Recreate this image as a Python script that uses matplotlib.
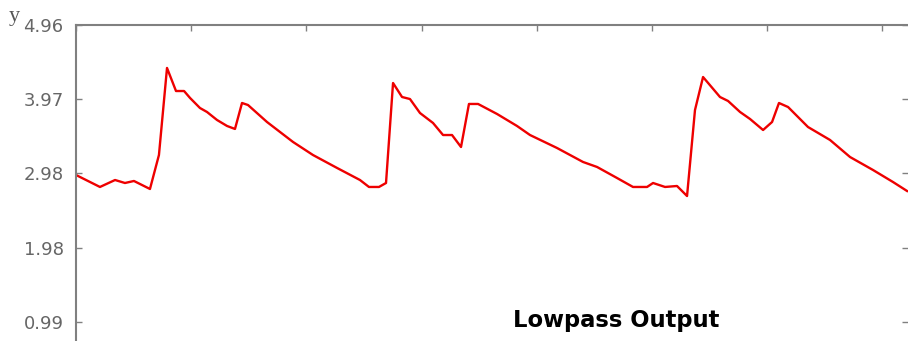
import matplotlib
matplotlib.use('Agg')
import matplotlib.pyplot as plt

# time (top tick = 1 unit) and lowpass output values
t = [0.000, 0.208, 0.339, 0.425, 0.503, 0.642, 0.720, 0.790, 0.868, 0.938,
     0.990, 1.076, 1.137, 1.224, 1.311, 1.380, 1.441, 1.493, 1.658, 1.884,
     2.057, 2.266, 2.465, 2.543, 2.630, 2.691, 2.752, 2.830, 2.899, 2.986,
     3.099, 3.186, 3.264, 3.342, 3.411, 3.490, 3.655, 3.828, 3.941, 4.175,
     4.401, 4.523, 4.696, 4.835, 4.957, 5.009, 5.113, 5.217, 5.304, 5.373,
     5.443, 5.590, 5.660, 5.764, 5.851, 5.964, 6.042, 6.102, 6.181, 6.354,
     6.545, 6.719, 6.918, 7.092, 7.214]
y = [2.956, 2.796, 2.889, 2.849, 2.876, 2.769, 3.223, 4.386, 4.078, 4.078,
     3.985, 3.851, 3.798, 3.691, 3.611, 3.571, 3.918, 3.891, 3.664, 3.397,
     3.223, 3.050, 2.889, 2.796, 2.796, 2.849, 4.185, 3.998, 3.971, 3.784,
     3.651, 3.490, 3.490, 3.330, 3.905, 3.905, 3.771, 3.611, 3.490, 3.317,
     3.130, 3.063, 2.916, 2.796, 2.796, 2.849, 2.796, 2.809, 2.675, 3.824,
     4.265, 3.998, 3.945, 3.798, 3.704, 3.557, 3.664, 3.918, 3.864, 3.597,
     3.424, 3.196, 3.023, 2.862, 2.742]

y_ticks = [0.992, 1.984, 2.976, 3.968, 4.96]
y_labels = ['0.99', '1.98', '2.98', '3.97', '4.96']
x_ticks = [0, 1, 2, 3, 4, 5, 6, 7]

W, H = 908, 341
fig = plt.figure(figsize=(W / 100, H / 100), dpi=100)
ax = fig.add_axes([76 / W, 0, 1 - 76 / W, 316 / H])

ax.plot(t, y, color='#ee0000', lw=1.7, solid_joinstyle='round')
ax.set_xlim(0, 7.222)
ax.set_ylim(0.738, 4.96)

for side in ('bottom', 'right'):
    ax.spines[side].set_visible(False)
for side in ('left', 'top'):
    ax.spines[side].set_color('#808080')
    ax.spines[side].set_linewidth(1.5)

ax.set_yticks(y_ticks)
ax.set_yticklabels(y_labels)
ax.tick_params(axis='y', direction='in', length=4, width=1, color='#808080',
               pad=9, labelsize=13, labelcolor='#666666', right=True)
ax.set_xticks(x_ticks)
ax.tick_params(axis='x', direction='in', length=4, width=1, color='#808080',
               top=True, bottom=False, labelbottom=False, labeltop=False)

fig.text(14 / W, 1 - 17 / H, 'y', family='Liberation Serif', fontsize=16,
         color='#555555', ha='center', va='center')
fig.text(616 / W, (H - 327) / H, 'Lowpass Output', family='DejaVu Sans',
         fontweight='bold', fontsize=16.3, ha='center', va='baseline')

fig.savefig('out.png', dpi=100)
